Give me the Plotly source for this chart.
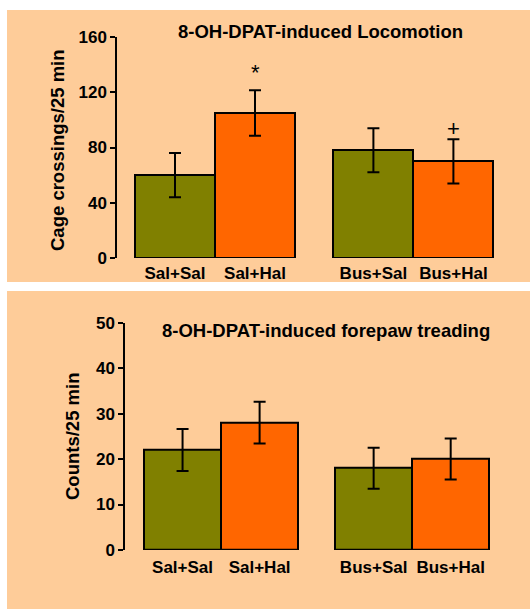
import plotly.graph_objects as go

# ---- data ----
groups = ["Sal+Sal", "Sal+Hal", "Bus+Sal", "Bus+Hal"]
positions = [0, 1, 2.48, 3.48]
bar_colors = ["#808000", "#FF6600", "#808000", "#FF6600"]

loco_mean = [60, 105, 78, 70]
loco_sem = [16, 16.5, 16, 16]
loco_marks = ["", "*", "", "+"]
loco_mark_y = [0, 134, 0, 94]

tread_mean = [22, 28, 18, 20]
tread_sem = [4.6, 4.6, 4.5, 4.5]

loco_ticks = [0, 40, 80, 120, 160]
tread_ticks = [0, 10, 20, 30, 40, 50]

W, H = 530, 609
PEACH = "#FECC99"
FONT = "Liberation Sans, Arial, sans-serif"


def px(x):
    return x / W


def py(y):
    return 1 - y / H


fig = go.Figure()

fig.add_trace(go.Bar(
    x=positions, y=loco_mean, width=1, marker=dict(color=bar_colors, line=dict(color="black", width=2)),
    error_y=dict(type="data", array=loco_sem, color="black", thickness=2, width=6),
    xaxis="x", yaxis="y", showlegend=False, hoverinfo="skip"))

fig.add_trace(go.Bar(
    x=positions, y=tread_mean, width=1, marker=dict(color=bar_colors, line=dict(color="black", width=2)),
    error_y=dict(type="data", array=tread_sem, color="black", thickness=2, width=6),
    xaxis="x2", yaxis="y2", showlegend=False, hoverinfo="skip"))

tickfont = dict(family=FONT, size=17, color="black")
axis_common = dict(showgrid=False, zeroline=False, tickfont=tickfont, automargin=False)
bold = lambda s: f"<b>{s}</b>"

fig.update_layout(
    autosize=True,
    margin=dict(l=0, r=0, t=0, b=0, pad=0),
    paper_bgcolor="white", plot_bgcolor="rgba(0,0,0,0)",
    bargap=0,
    xaxis=dict(domain=[px(117), px(500)], range=[-0.725, 4.0625], tickvals=positions,
               ticktext=[bold(g) for g in groups], showline=False, ticks="", anchor="y",
               ticklabelstandoff=3, **axis_common),
    yaxis=dict(domain=[py(258), py(37)], range=[0, 160], tickvals=loco_ticks,
               ticktext=[bold(t) for t in loco_ticks], showline=True,
               linecolor="black", linewidth=1.5, ticks="outside", ticklen=5, tickwidth=1.5,
               tickcolor="black", anchor="x", **axis_common),
    xaxis2=dict(domain=[px(125), px(500)], range=[-0.747, 4.12], tickvals=positions,
                ticktext=[bold(g) for g in groups], showline=False, ticks="", anchor="y2",
                ticklabelstandoff=5, **axis_common),
    yaxis2=dict(domain=[py(550), py(322.7)], range=[0, 50], tickvals=tread_ticks,
                ticktext=[bold(t) for t in tread_ticks], showline=True,
                linecolor="black", linewidth=1.5, ticks="outside", ticklen=5, tickwidth=1.5,
                tickcolor="black", anchor="x2", **axis_common),
)

# peach panels
fig.add_shape(type="rect", xref="paper", yref="paper", x0=px(7), x1=1, y0=py(282), y1=py(10),
              fillcolor=PEACH, line=dict(width=0), layer="below")
fig.add_shape(type="rect", xref="paper", yref="paper", x0=px(7), x1=1, y0=0, y1=py(291),
              fillcolor=PEACH, line=dict(width=0), layer="below")

titlefont = dict(family=FONT, size=18.5, color="black")
ann = [
    dict(text="<b>8-OH-DPAT-induced Locomotion</b>", x=px(320), y=py(31), xref="paper", yref="paper",
         showarrow=False, font=titlefont, xanchor="center", yanchor="middle"),
    dict(text="<b>8-OH-DPAT-induced forepaw treading</b>", x=px(326), y=py(330), xref="paper", yref="paper",
         showarrow=False, font=titlefont, xanchor="center", yanchor="middle"),
    dict(text="<b>Cage crossings/25 min</b>", x=px(57), y=py(150), xref="paper", yref="paper",
         textangle=-90, showarrow=False, font=titlefont, xanchor="center", yanchor="middle"),
    dict(text="<b>Counts/25 min</b>", x=px(72), y=py(437), xref="paper", yref="paper",
         textangle=-90, showarrow=False, font=titlefont, xanchor="center", yanchor="middle"),
]
for pos, m, yv in zip(positions, loco_marks, loco_mark_y):
    if m:
        ann.append(dict(text=m, x=pos, y=yv, xref="x", yref="y", showarrow=False,
                        font=dict(family=FONT, size=22, color="black"), xanchor="center", yanchor="middle"))
fig.update_layout(annotations=ann)

fig.write_html("out.html", config={"displayModeBar": False, "responsive": True},
               default_width="100vw", default_height="100vh",
               post_script="document.body.style.margin='0';document.body.style.overflow='hidden';")
